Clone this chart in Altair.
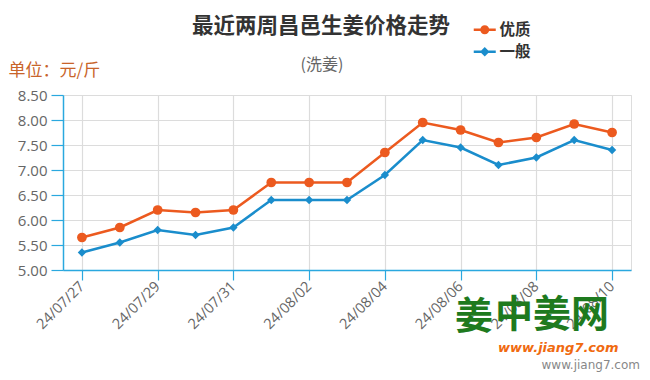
import altair as alt
import pandas as pd

dates = ["24/07/27", "24/07/28", "24/07/29", "24/07/30", "24/07/31",
         "24/08/01", "24/08/02", "24/08/03", "24/08/04", "24/08/05",
         "24/08/06", "24/08/07", "24/08/08", "24/08/09", "24/08/10"]
premium = [5.65, 5.85, 6.20, 6.15, 6.20, 6.75, 6.75, 6.75, 7.35, 7.95, 7.80, 7.55, 7.65, 7.92, 7.75]
ordinary = [5.35, 5.55, 5.80, 5.70, 5.85, 6.40, 6.40, 6.40, 6.90, 7.60, 7.45, 7.10, 7.25, 7.60, 7.40]
series_names = ["优质", "一般"]
label_dates = dates[::2]
y_ticks = [5.0, 5.5, 6.0, 6.5, 7.0, 7.5, 8.0, 8.5]

title_text = "最近两周昌邑生姜价格走势"
subtitle_text = "(洗姜)"
unit_text = "单位：元/斤"

df = pd.DataFrame({
    "date": dates * 2,
    "price": premium + ordinary,
    "grade": [series_names[0]] * len(dates) + [series_names[1]] * len(dates),
})

ORANGE = "#ec5a1f"
BLUE = "#1a8dcc"
AXIS = "#2aa8df"
GRID = "#dcdcdc"
CJK = "Noto Sans CJK SC"
NUMF = "Open Sans"

# legend glyphs: a short line with the marker on it (filled shapes)
circle_path = ("M-2.2,-0.25H2.2V0.25H-2.2Z"
               "M0.9,0A0.9,0.9,0,1,1,-0.9,0A0.9,0.9,0,1,1,0.9,0Z")
diamond_path = ("M-2.2,-0.25H2.2V0.25H-2.2Z"
                "M0,-0.95L0.95,0L0,0.95L-0.95,0Z")

x_enc = alt.X("date:O", sort=dates,
              scale=alt.Scale(type="point", padding=0.5, domain=dates),
              axis=alt.Axis(values=label_dates, labelAngle=-45, labelAlign="right",
                            labelBaseline="middle", labelColor="#666", labelFont=NUMF,
                            labelFontSize=14.5, labelPadding=4, domainColor=AXIS,
                            domainWidth=1.5, tickColor=AXIS, tickSize=10, tickWidth=1.2,
                            grid=True, gridColor=GRID, gridWidth=1.2, title=None))
y_enc = alt.Y("price:Q",
              scale=alt.Scale(domain=[5.0, 8.5], nice=False, zero=False),
              axis=alt.Axis(values=y_ticks, format=".2f", labelColor="#666",
                            labelFont=NUMF, labelFontSize=15, labelPadding=4,
                            domainColor=AXIS, domainWidth=1.5, tickColor=AXIS,
                            tickSize=12, tickWidth=1.2, grid=True, gridColor=GRID,
                            gridWidth=1.2, title=unit_text, titleAngle=0,
                            titleAlign="left", titleBaseline="middle", titleX=-55,
                            titleY=-25, titleColor="#c8642a", titleFont=CJK,
                            titleFontSize=17, titleFontWeight="normal"))

color_scale = alt.Scale(domain=series_names, range=[ORANGE, BLUE])

legend_props = dict(title=None, orient="none", legendX=414, legendY=-73,
                    labelFont=CJK, labelFontSize=15.5, labelFontWeight="bold",
                    labelColor="#333", labelOffset=7, symbolSize=100,
                    rowPadding=5, padding=0, symbolOpacity=1)

lines = alt.Chart(df).mark_line(strokeWidth=2.5).encode(
    x=x_enc, y=y_enc,
    color=alt.Color("grade:N", scale=color_scale, legend=None),
)

points = alt.Chart(df).mark_point(filled=True, opacity=1).encode(
    x=x_enc, y=y_enc,
    color=alt.Color("grade:N", scale=color_scale, legend=None),
    shape=alt.Shape("grade:N", scale=alt.Scale(domain=series_names, range=["circle", "diamond"]),
                    legend=None),
    size=alt.Size("grade:N", scale=alt.Scale(domain=series_names, range=[95, 70]), legend=None),
)

legend_layer = alt.Chart(df).transform_filter("datum.price < 0").mark_point(
    filled=True, opacity=1, size=100).encode(
    x=x_enc, y=y_enc,
    color=alt.Color("grade:N", scale=color_scale, sort=series_names,
                    legend=alt.Legend(**legend_props)),
    shape=alt.Shape("grade:N", sort=series_names,
                    scale=alt.Scale(domain=series_names, range=[circle_path, diamond_path]),
                    legend=alt.Legend(**legend_props)),
)

title_df = pd.DataFrame({"t": [title_text]})
title_mark = alt.Chart(title_df).mark_text(font=CJK, fontSize=21.5, fontWeight="bold",
                                           color="#333", align="center",
                                           baseline="middle").encode(
    text="t:N", x=alt.value(258), y=alt.value(-68))
sub_df = pd.DataFrame({"t": [subtitle_text]})
sub_mark = alt.Chart(sub_df).mark_text(font=CJK, fontSize=16, color="#666", align="center",
                                       baseline="middle").encode(
    text="t:N", x=alt.value(259), y=alt.value(-30))

wm_a = pd.DataFrame({"t": ["姜"]})
logo_a = alt.Chart(wm_a).mark_text(font=CJK, fontSize=38, fontWeight="bold", color="#1e7a1e",
                                   align="left", baseline="middle").encode(
    text="t:N", x=alt.value(392), y=alt.value(223))
wm_b = pd.DataFrame({"t": ["中姜网"]})
logo_b = alt.Chart(wm_b).mark_text(font=CJK, fontSize=38, fontWeight="bold", color="#1e7a1e",
                                   align="left", baseline="middle").encode(
    text="t:N", x=alt.value(432), y=alt.value(221))
wm2 = pd.DataFrame({"t": ["www.jiang7.com"]})
logo_url = alt.Chart(wm2).mark_text(font="DejaVu Sans", fontSize=13, fontWeight="bold",
                                    fontStyle="italic", color="#f06a10", align="left",
                                    baseline="middle").encode(
    text="t:N", x=alt.value(435), y=alt.value(253))
corner = alt.Chart(wm2).mark_text(font="DejaVu Sans", fontSize=12, color="#888",
                                  align="right", baseline="middle").encode(
    text="t:N", x=alt.value(577), y=alt.value(270))

chart = alt.layer(lines, points, legend_layer, title_mark, sub_mark,
                  logo_a, logo_b, logo_url, corner).resolve_scale(
    shape="independent", size="independent", color="independent"
).properties(
    width=568, height=175,
    padding={"left": 55, "top": 87, "right": 11, "bottom": 102},
    autosize=alt.AutoSizeParams(type="none"),
).configure_view(stroke=None).configure(background="white")

chart.save("out.html", embed_options={"renderer": "svg", "actions": False})
